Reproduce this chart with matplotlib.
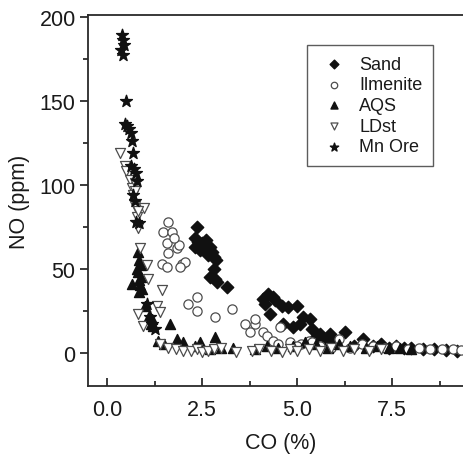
import matplotlib
matplotlib.use("Agg")
import matplotlib.pyplot as plt
from matplotlib.ticker import MultipleLocator, FormatStrFormatter

plt.rcParams["font.family"] = ["Liberation Sans", "DejaVu Sans"]

# Sand (filled diamonds)
sand_x = [2.37, 2.3, 2.4, 2.5, 2.3, 2.45, 2.6, 2.7, 2.75, 2.65, 2.8, 2.55, 2.85, 2.8, 2.71, 2.84, 2.9, 3.16,
          4.24, 4.1, 4.16, 4.35, 4.42, 4.6, 4.75, 5.0, 4.29, 4.63, 5.16, 4.9, 5.08, 5.34, 5.39, 5.5, 5.6,
          5.75, 5.87, 6.0, 6.26, 6.5, 6.74, 7.0, 7.2, 7.4, 7.6, 7.8, 8.0, 8.3, 8.6, 8.9, 9.2]
sand_y = [75, 68, 66, 65, 63, 61, 67, 63, 60, 58, 57, 62, 55, 50, 45, 44, 42, 39,
          35, 32, 29, 33, 31, 28, 27, 28, 23, 17, 21, 15, 17, 20, 14, 9, 11,
          8, 11, 6, 12, 4, 8, 4, 5, 3, 4, 3, 3, 2, 2, 1.5, 1]

# Ilmenite (open circles)
ilm_x = [1.61, 1.47, 1.71, 1.58, 1.84, 1.61, 1.9, 1.45, 1.58, 1.97, 2.05, 1.92, 1.75, 2.37, 2.13, 2.37,
         2.84, 3.29, 3.63, 3.89, 3.76, 4.1, 3.9, 4.2, 4.37, 4.55, 4.8, 5.1, 5.3, 5.6, 5.9, 6.1, 6.4,
         6.7, 7.0, 7.3, 7.6, 7.9, 8.2, 8.5, 8.8, 9.1, 9.3, 4.5, 5.0, 5.4]
ilm_y = [78, 72, 72, 65, 62, 59, 64, 53, 51, 53, 54, 51, 68, 33, 29, 25,
         21, 26, 17, 17, 12, 12, 20, 10, 7, 15, 6, 5, 7, 4, 3, 8, 3,
         5, 4, 3, 4, 2, 3, 2, 2, 2, 1.5, 5, 4, 6]

# AQS (filled up triangles)
aqs_x = [0.82, 0.85, 0.88, 0.8, 0.9, 0.84, 0.87, 0.92, 0.83, 0.66, 0.78,
         1.0, 1.1, 1.18, 1.21, 1.15, 1.66, 1.34, 1.5, 1.84, 2.0, 2.3, 2.45, 2.7, 2.84,
         3.0, 3.3, 3.9, 4.2, 4.5, 4.9, 5.2, 5.5, 5.8, 6.1, 6.4, 6.8, 7.1, 7.4, 7.7, 8.0]
aqs_y = [60, 55, 52, 48, 45, 43, 40, 38, 36, 41, 50,
         28, 22, 20, 16, 17, 17, 7, 5, 8, 6.5, 4, 6.5, 2, 9,
         3, 3, 2, 4, 3, 4, 6, 5, 3, 5, 4, 3, 4, 3, 3, 2]

# LDst (open down triangles)
ldst_x = [0.34, 0.47, 0.5, 0.6, 0.66, 0.68, 0.74, 0.74, 0.74, 0.79, 0.82, 0.97, 0.82, 0.87, 1.05, 1.08,
          1.45, 0.82, 0.95, 1.32, 1.39, 1.4, 1.6, 1.8, 2.0, 2.2, 2.35, 2.5, 2.65, 2.8, 3.0, 3.4,
          3.8, 4.0, 4.3, 4.6, 4.8, 5.0, 5.3, 5.6, 5.9, 6.2, 6.5, 6.9, 7.2]
ldst_y = [119, 111, 108, 103, 98, 94, 101, 96, 87, 81, 74, 86, 84, 62, 52, 44,
          37, 23, 16, 28, 24, 5, 3, 2, 1, 1, 2, 0.5, 1, 2, 3, 0.5,
          1, 2, 1, 0.5, 2, 1, 2, 1, 3, 1, 2, 1, 2]

# Mn Ore (stars)
mn_x = [0.39, 0.42, 0.45, 0.37, 0.42, 0.5, 0.47, 0.53, 0.58, 0.63, 0.66, 0.68, 0.63, 0.71, 0.76, 0.79,
        0.68, 0.74, 0.76, 0.84, 1.05, 1.13, 1.18, 1.26]
mn_y = [189, 186, 183, 180, 177, 150, 136, 135, 133, 131, 126, 119, 111, 109, 107, 102,
        94, 90, 78, 77, 29, 21, 17, 14]

txt = "#1a1a1a"
fig = plt.figure(figsize=(4.64, 4.56), dpi=100)
ax = fig.add_axes([0.19, 0.151, 0.83, 0.814])

edge = "#4d4d4d"
ax.scatter(sand_x, sand_y, marker="D", s=40, c="#111111", edgecolors="#111111", label="Sand", zorder=3)
ax.scatter(ilm_x, ilm_y, marker="o", s=44, facecolors="white", edgecolors=edge, linewidths=0.9,
           label="Ilmenite", zorder=3)
ax.scatter(aqs_x, aqs_y, marker="^", s=52, c="#111111", edgecolors="#111111", label="AQS", zorder=3)
ax.scatter(ldst_x, ldst_y, marker="v", s=52, facecolors="white", edgecolors=edge, linewidths=0.9,
           label="LDst", zorder=3)
ax.scatter(mn_x, mn_y, marker="*", s=80, c="#111111", edgecolors="#111111", label="Mn Ore", zorder=3)

ax.set_xlim(-0.5, 9.63)
ax.set_ylim(-20, 201)
ax.xaxis.set_major_locator(MultipleLocator(2.5))
ax.xaxis.set_minor_locator(MultipleLocator(1.25))
ax.yaxis.set_major_locator(MultipleLocator(50))
ax.yaxis.set_minor_locator(MultipleLocator(25))
ax.xaxis.set_major_formatter(FormatStrFormatter("%.1f"))
ax.tick_params(axis="x", which="both", direction="in", labelsize=15.5, colors=txt, pad=9)
ax.tick_params(axis="y", which="both", direction="out", labelsize=15.5, colors=txt, pad=3)
ax.tick_params(which="major", length=6, width=1.2)
ax.tick_params(which="minor", length=3.5, width=1.2)
for s in ax.spines.values():
    s.set_linewidth(1.3)
    s.set_color("#2a2a2a")

ax.set_xlabel("CO (%)", fontsize=15.5, color=txt, labelpad=9)
ax.set_ylabel("NO (ppm)", fontsize=15.5, color=txt, labelpad=7)

leg = ax.legend(loc="upper right", bbox_to_anchor=(0.896, 0.919), borderaxespad=0,
                fancybox=False, fontsize=13, markerscale=0.7, labelspacing=0.2,
                handletextpad=0.5, borderpad=0.6, handlelength=1.8, scatterpoints=1)
leg.get_frame().set_edgecolor("#333333")
leg.get_frame().set_linewidth(1.0)
for t in leg.get_texts():
    t.set_color(txt)

fig.savefig("out.png", dpi=100)
